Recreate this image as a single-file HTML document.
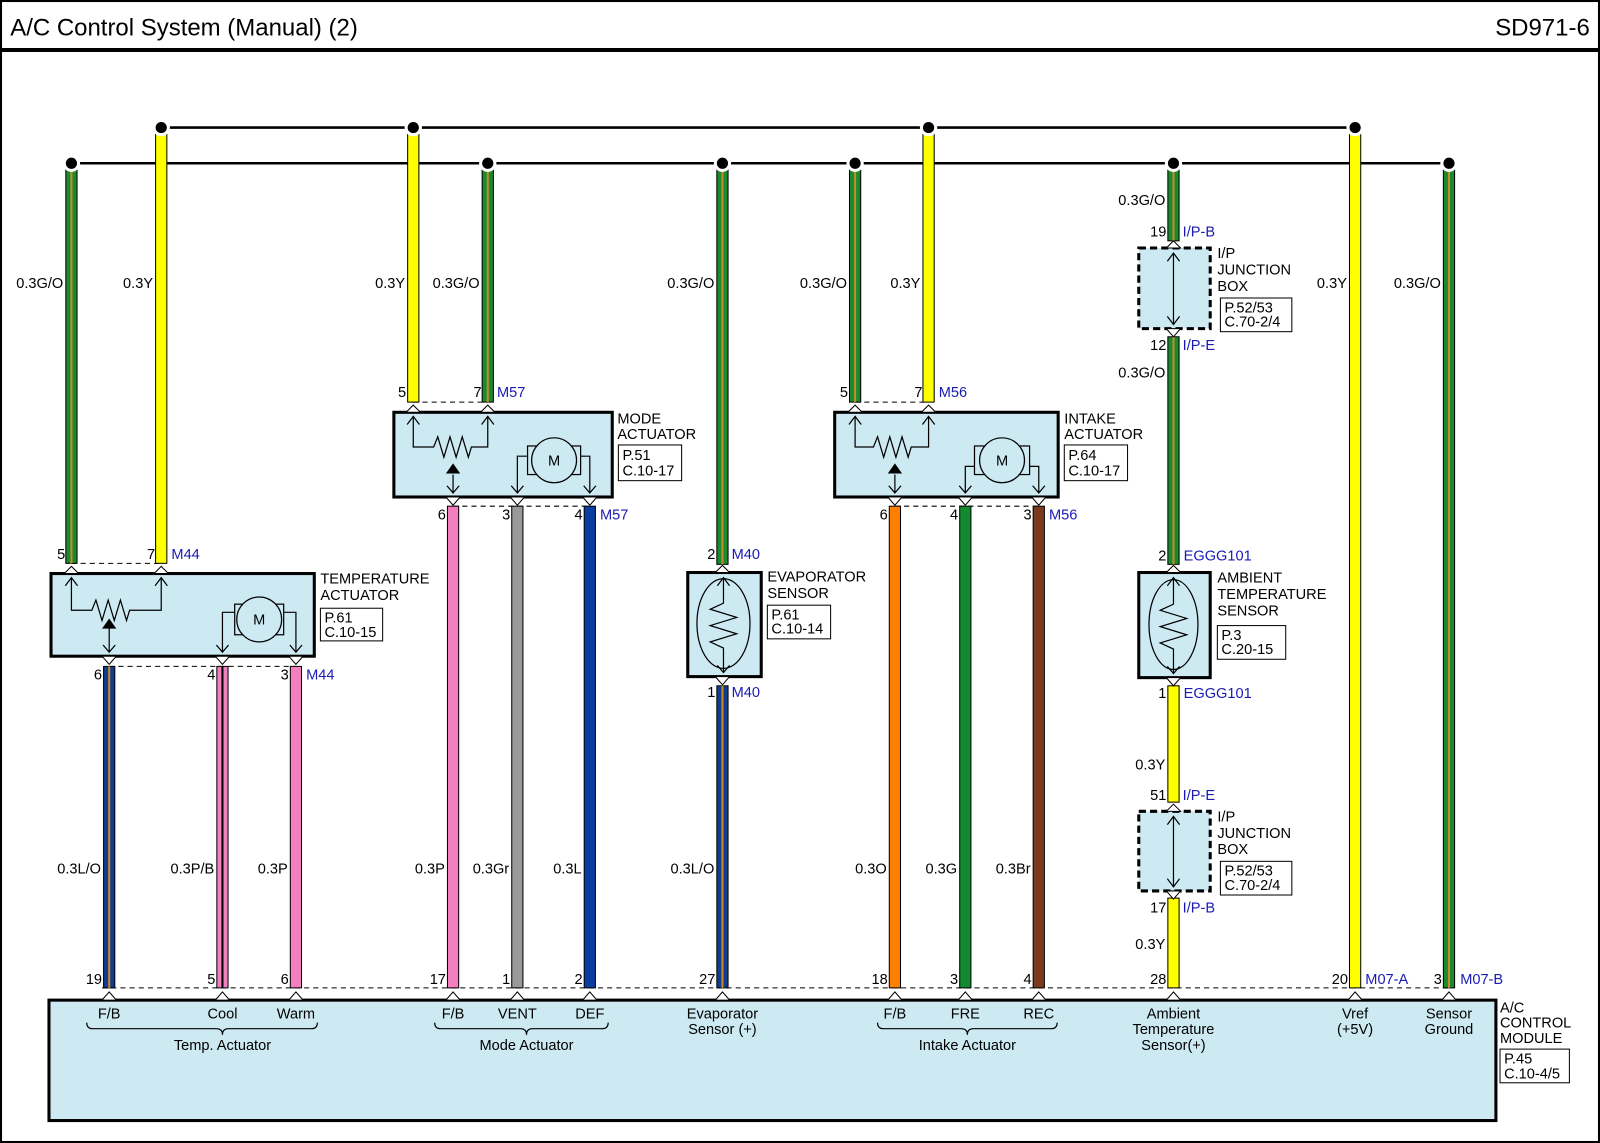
<!DOCTYPE html>
<html><head><meta charset="utf-8"><style>
html,body{margin:0;padding:0;background:#fff}
svg{display:block}
text{font-family:"Liberation Sans",Arial,sans-serif;font-size:14.3px;fill:#000}
.b{fill:#1a1ab4}
.t{font-size:23.5px}
</style></head><body>
<svg width="1600" height="1143" viewBox="0 0 1568 1120" preserveAspectRatio="none" xmlns="http://www.w3.org/2000/svg">
<rect x="1" y="1" width="1566" height="1118" fill="#fff" stroke="#000" stroke-width="2"/>
<text x="10" y="35" class="t">A/C Control System (Manual) (2)</text>
<text x="1558" y="35" class="t" text-anchor="end">SD971-6</text>
<line x1="0" y1="49" x2="1568" y2="49" stroke="#000" stroke-width="4"/>

<line x1="158" y1="125" x2="1328" y2="125" stroke="#000" stroke-width="2.5"/>
<line x1="70" y1="160" x2="1420" y2="160" stroke="#000" stroke-width="2.5"/>

<rect x="48" y="980" width="1418" height="118" fill="#cdeaf2" stroke="#000" stroke-width="3"/>
<rect x="50" y="562" width="258" height="81" fill="#cdeaf2" stroke="#000" stroke-width="3"/>
<rect x="386" y="404" width="214" height="83" fill="#cdeaf2" stroke="#000" stroke-width="3"/>
<rect x="818" y="404" width="219" height="83" fill="#cdeaf2" stroke="#000" stroke-width="3"/>
<rect x="674" y="561" width="72" height="102" fill="#cdeaf2" stroke="#000" stroke-width="3"/>
<rect x="1116" y="561" width="70" height="103" fill="#cdeaf2" stroke="#000" stroke-width="3"/>
<rect x="1116" y="243" width="70" height="79" fill="#cdeaf2" stroke="#000" stroke-width="3" stroke-dasharray="7,4"/>
<rect x="1116" y="795" width="70" height="78" fill="#cdeaf2" stroke="#000" stroke-width="3" stroke-dasharray="7,4"/>

<g stroke="#000" stroke-width="1" stroke-dasharray="5,4" fill="none">
<line x1="70" y1="552" x2="158" y2="552"/>
<line x1="107" y1="653" x2="290" y2="653"/>
<line x1="405" y1="394" x2="478" y2="394"/>
<line x1="444" y1="496" x2="578" y2="496"/>
<line x1="838" y1="394" x2="910" y2="394"/>
<line x1="877" y1="496" x2="1018" y2="496"/>
<line x1="100" y1="968" x2="1420" y2="968"/>
</g>

<g stroke="#000" stroke-width="1">
<rect x="64.5" y="160" width="11" height="392" fill="#1a8a2e"/><rect x="69" y="160" width="2" height="392" fill="#c98a2a" stroke="none"/>
<rect x="472.5" y="160" width="11" height="234" fill="#1a8a2e"/><rect x="477" y="160" width="2" height="234" fill="#c98a2a" stroke="none"/>
<rect x="702.5" y="160" width="11" height="393" fill="#1a8a2e"/><rect x="707" y="160" width="2" height="393" fill="#c98a2a" stroke="none"/>
<rect x="832.5" y="160" width="11" height="234" fill="#1a8a2e"/><rect x="837" y="160" width="2" height="234" fill="#c98a2a" stroke="none"/>
<rect x="1144.5" y="160" width="11" height="76" fill="#1a8a2e"/><rect x="1149" y="160" width="2" height="76" fill="#c98a2a" stroke="none"/>
<rect x="1144.5" y="330" width="11" height="223" fill="#1a8a2e"/><rect x="1149" y="330" width="2" height="223" fill="#c98a2a" stroke="none"/>
<rect x="1414.5" y="160" width="11" height="808" fill="#1a8a2e"/><rect x="1419" y="160" width="2" height="808" fill="#c98a2a" stroke="none"/>
<rect x="152.5" y="125" width="11" height="427" fill="#ffff00"/>
<rect x="399.5" y="125" width="11" height="269" fill="#ffff00"/>
<rect x="904.5" y="125" width="11" height="269" fill="#ffff00"/>
<rect x="1322.5" y="125" width="11" height="843" fill="#ffff00"/>
<rect x="1144.5" y="672" width="11" height="114" fill="#ffff00"/>
<rect x="1144.5" y="880" width="11" height="88" fill="#ffff00"/>
<rect x="101.5" y="653" width="11" height="315" fill="#123d8c"/><rect x="106" y="653" width="2" height="315" fill="#c98a2a" stroke="none"/>
<rect x="702.5" y="672" width="11" height="296" fill="#123d8c"/><rect x="707" y="672" width="2" height="296" fill="#c98a2a" stroke="none"/>
<rect x="212.5" y="653" width="11" height="315" fill="#f47fbf"/><rect x="217" y="653" width="2" height="315" fill="#000" stroke="none"/>
<rect x="284.5" y="653" width="11" height="315" fill="#f47fbf"/>
<rect x="438.5" y="496" width="11" height="472" fill="#f47fbf"/>
<rect x="501.5" y="496" width="11" height="472" fill="#9a9a9a"/>
<rect x="572.5" y="496" width="11" height="472" fill="#0a3d9e"/>
<rect x="871.5" y="496" width="11" height="472" fill="#ff7f00"/>
<rect x="940.5" y="496" width="11" height="472" fill="#118a30"/>
<rect x="1012.5" y="496" width="11" height="472" fill="#7b3a1e"/>
</g>

<g fill="#000" stroke="#fff" stroke-width="3">
<circle cx="158" cy="125" r="7"/><circle cx="405" cy="125" r="7"/><circle cx="910" cy="125" r="7"/><circle cx="1328" cy="125" r="7"/>
<circle cx="70" cy="160" r="7"/><circle cx="478" cy="160" r="7"/><circle cx="708" cy="160" r="7"/><circle cx="838" cy="160" r="7"/><circle cx="1150" cy="160" r="7"/><circle cx="1420" cy="160" r="7"/>
</g>

<g fill="#fff" stroke="#000" stroke-width="1">
<path d="M63 562 L70 555 L77 562Z"/><path d="M151 562 L158 555 L165 562Z"/>
<path d="M398 404 L405 397 L412 404Z"/><path d="M471 404 L478 397 L485 404Z"/>
<path d="M831 404 L838 397 L845 404Z"/><path d="M903 404 L910 397 L917 404Z"/>
<path d="M701 561 L708 554 L715 561Z"/><path d="M1143 561 L1150 554 L1157 561Z"/>
<path d="M1143 243 L1150 236 L1157 243Z"/><path d="M1143 795 L1150 788 L1157 795Z"/>
<path d="M100 980 L107 972 L114 980Z"/><path d="M211 980 L218 972 L225 980Z"/><path d="M283 980 L290 972 L297 980Z"/>
<path d="M437 980 L444 972 L451 980Z"/><path d="M500 980 L507 972 L514 980Z"/><path d="M571 980 L578 972 L585 980Z"/>
<path d="M701 980 L708 972 L715 980Z"/><path d="M870 980 L877 972 L884 980Z"/><path d="M939 980 L946 972 L953 980Z"/><path d="M1011 980 L1018 972 L1025 980Z"/>
<path d="M1143 980 L1150 972 L1157 980Z"/><path d="M1321 980 L1328 972 L1335 980Z"/><path d="M1413 980 L1420 972 L1427 980Z"/>
<path d="M100 643 L107 651 L114 643Z"/><path d="M211 643 L218 651 L225 643Z"/><path d="M283 643 L290 651 L297 643Z"/>
<path d="M437 487 L444 495 L451 487Z"/><path d="M500 487 L507 495 L514 487Z"/><path d="M571 487 L578 495 L585 487Z"/>
<path d="M870 487 L877 495 L884 487Z"/><path d="M939 487 L946 495 L953 487Z"/><path d="M1011 487 L1018 495 L1025 487Z"/>
<path d="M701 663 L708 671 L715 663Z"/><path d="M1143 664 L1150 672 L1157 664Z"/>
<path d="M1143 322 L1150 330 L1157 322Z"/><path d="M1143 873 L1150 881 L1157 873Z"/>
</g>

<g fill="none" stroke="#000" stroke-width="1.2">
<polyline points="70,566 70,598 90,598 94,588 100,608 106,588 112,608 118,588 124,608 127,598 158,598 158,566"/>
<polyline points="64,574 70,566 76,574"/><polyline points="152,574 158,566 164,574"/>
<line x1="107" y1="614" x2="107" y2="639"/><polyline points="101,632 107,639 113,632"/>
<path d="M218 639 V600 H230"/><path d="M290 639 V600 H278"/>
<polyline points="212,632 218,639 224,632"/><polyline points="284,632 290,639 296,632"/>
<rect x="230" y="592" width="48" height="30" fill="#cdeaf2"/>
<circle cx="254" cy="607" r="22" fill="#cdeaf2"/>
<polyline points="405,408 405,438 425,438 429,428 435,448 441,428 447,448 453,428 459,448 462,438 478,438 478,408"/>
<polyline points="399,416 405,408 411,416"/><polyline points="472,416 478,408 484,416"/>
<line x1="444" y1="465" x2="444" y2="483"/><polyline points="438,476 444,483 450,476"/>
<path d="M507 483 V447 H518"/><path d="M578 483 V447 H568"/>
<polyline points="501,476 507,483 513,476"/><polyline points="572,476 578,483 584,476"/>
<rect x="517" y="437" width="52" height="28" fill="#cdeaf2"/>
<circle cx="543" cy="451" r="22" fill="#cdeaf2"/>
<polyline points="838,408 838,438 856,438 860,428 866,448 872,428 878,448 884,428 890,448 893,438 910,438 910,408"/>
<polyline points="832,416 838,408 844,416"/><polyline points="904,416 910,408 916,416"/>
<line x1="877" y1="465" x2="877" y2="483"/><polyline points="871,476 877,483 883,476"/>
<path d="M946 483 V457 H956"/><path d="M1018 483 V457 H1008"/>
<polyline points="940,476 946,483 952,476"/><polyline points="1012,476 1018,483 1024,476"/>
<rect x="955" y="437" width="54" height="28" fill="#cdeaf2"/>
<circle cx="982" cy="451" r="22" fill="#cdeaf2"/>
<ellipse cx="709" cy="611" rx="26" ry="44"/>
<polyline points="709,566 709,591 696,597 722,605 696,613 722,621 696,629 709,635 709,659"/>
<polyline points="703,574 709,566 715,574"/><polyline points="703,652 709,659 715,652"/>
<ellipse cx="1150" cy="612" rx="24" ry="44"/>
<polyline points="1150,566 1150,592 1137,598 1163,606 1137,614 1163,622 1137,630 1150,636 1150,660"/>
<polyline points="1144,574 1150,566 1156,574"/><polyline points="1144,653 1150,660 1156,653"/>
<line x1="1150" y1="248" x2="1150" y2="318"/><polyline points="1144,256 1150,248 1156,256"/><polyline points="1144,310 1150,318 1156,310"/>
<line x1="1150" y1="800" x2="1150" y2="869"/><polyline points="1144,808 1150,800 1156,808"/><polyline points="1144,861 1150,869 1156,861"/>
<path d="M85 1002 q0 6 6 6 H212 q6 0 6 6 q0 -6 6 -6 H305 q6 0 6 -6"/>
<path d="M426 1002 q0 6 6 6 H510 q6 0 6 6 q0 -6 6 -6 H590 q6 0 6 -6"/>
<path d="M860 1002 q0 6 6 6 H942 q6 0 6 6 q0 -6 6 -6 H1030 q6 0 6 -6"/>
</g>
<path d="M100 616 L107 606 L114 616Z" fill="#000"/>
<path d="M437 464 L444 454 L451 464Z" fill="#000"/>
<path d="M870 464 L877 454 L884 464Z" fill="#000"/>
<text x="254" y="612" text-anchor="middle">M</text>
<text x="543" y="456" text-anchor="middle">M</text>
<text x="982" y="456" text-anchor="middle">M</text>

<g fill="#fff" stroke="#000" stroke-width="1">
<rect x="314" y="596" width="61" height="32"/>
<rect x="606" y="436" width="62" height="35"/>
<rect x="1043" y="436" width="62" height="35"/>
<rect x="752" y="593" width="62" height="33"/>
<rect x="1193" y="613" width="67" height="33"/>
<rect x="1196" y="292" width="70" height="33"/>
<rect x="1196" y="844" width="70" height="33"/>
<rect x="1470" y="1028" width="68" height="33"/>
</g>
<text x="318" y="610">P.61</text><text x="318" y="624">C.10-15</text>
<text x="610" y="451">P.51</text><text x="610" y="466">C.10-17</text>
<text x="1047" y="451">P.64</text><text x="1047" y="466">C.10-17</text>
<text x="756" y="607">P.61</text><text x="756" y="621">C.10-14</text>
<text x="1197" y="627">P.3</text><text x="1197" y="641">C.20-15</text>
<text x="1200" y="306">P.52/53</text><text x="1200" y="320">C.70-2/4</text>
<text x="1200" y="858">P.52/53</text><text x="1200" y="872">C.70-2/4</text>
<text x="1474" y="1042">P.45</text><text x="1474" y="1057">C.10-4/5</text>

<text x="314" y="572">TEMPERATURE</text><text x="314" y="588">ACTUATOR</text>
<text x="605" y="415">MODE</text><text x="605" y="430">ACTUATOR</text>
<text x="1043" y="415">INTAKE</text><text x="1043" y="430">ACTUATOR</text>
<text x="752" y="570">EVAPORATOR</text><text x="752" y="586">SENSOR</text>
<text x="1193" y="571">AMBIENT</text><text x="1193" y="587">TEMPERATURE</text><text x="1193" y="603">SENSOR</text>
<text x="1193" y="253">I/P</text><text x="1193" y="269">JUNCTION</text><text x="1193" y="285">BOX</text>
<text x="1193" y="805">I/P</text><text x="1193" y="821">JUNCTION</text><text x="1193" y="837">BOX</text>
<text x="1470" y="992">A/C</text><text x="1470" y="1007">CONTROL</text><text x="1470" y="1022">MODULE</text>

<g text-anchor="end">
<text x="62" y="282">0.3G/O</text><text x="150" y="282">0.3Y</text>
<text x="397" y="282">0.3Y</text><text x="470" y="282">0.3G/O</text>
<text x="700" y="282">0.3G/O</text><text x="830" y="282">0.3G/O</text><text x="902" y="282">0.3Y</text>
<text x="1142" y="201">0.3G/O</text><text x="1142" y="370">0.3G/O</text>
<text x="1320" y="282">0.3Y</text><text x="1412" y="282">0.3G/O</text>
<text x="1142" y="754">0.3Y</text><text x="1142" y="930">0.3Y</text>
<text x="99" y="856">0.3L/O</text><text x="210" y="856">0.3P/B</text><text x="282" y="856">0.3P</text>
<text x="436" y="856">0.3P</text><text x="499" y="856">0.3Gr</text><text x="570" y="856">0.3L</text>
<text x="700" y="856">0.3L/O</text><text x="869" y="856">0.3O</text><text x="938" y="856">0.3G</text><text x="1010" y="856">0.3Br</text>
<text x="64" y="548">5</text><text x="152" y="548">7</text>
<text x="100" y="666">6</text><text x="211" y="666">4</text><text x="283" y="666">3</text>
<text x="398" y="389">5</text><text x="472" y="389">7</text>
<text x="437" y="509">6</text><text x="500" y="509">3</text><text x="571" y="509">4</text>
<text x="831" y="389">5</text><text x="904" y="389">7</text>
<text x="870" y="509">6</text><text x="939" y="509">4</text><text x="1011" y="509">3</text>
<text x="701" y="548">2</text><text x="701" y="683">1</text>
<text x="1143" y="232">19</text><text x="1143" y="343">12</text>
<text x="1143" y="549">2</text><text x="1143" y="684">1</text>
<text x="1143" y="784">51</text><text x="1143" y="894">17</text>
<text x="100" y="964">19</text><text x="211" y="964">5</text><text x="283" y="964">6</text>
<text x="437" y="964">17</text><text x="500" y="964">1</text><text x="571" y="964">2</text>
<text x="701" y="964">27</text><text x="870" y="964">18</text><text x="939" y="964">3</text><text x="1011" y="964">4</text>
<text x="1143" y="964">28</text><text x="1321" y="964">20</text><text x="1413" y="964">3</text>
</g>
<text x="168" y="548" class="b">M44</text><text x="300" y="666" class="b">M44</text>
<text x="487" y="389" class="b">M57</text><text x="588" y="509" class="b">M57</text>
<text x="920" y="389" class="b">M56</text><text x="1028" y="509" class="b">M56</text>
<text x="717" y="548" class="b">M40</text><text x="717" y="683" class="b">M40</text>
<text x="1159" y="232" class="b">I/P-B</text><text x="1159" y="343" class="b">I/P-E</text>
<text x="1160" y="549" class="b">EGGG101</text><text x="1160" y="684" class="b">EGGG101</text>
<text x="1159" y="784" class="b">I/P-E</text><text x="1159" y="894" class="b">I/P-B</text>
<text x="1338" y="964" class="b">M07-A</text><text x="1431" y="964" class="b">M07-B</text>

<g text-anchor="middle">
<text x="107" y="998">F/B</text><text x="218" y="998">Cool</text><text x="290" y="998">Warm</text>
<text x="218" y="1029">Temp. Actuator</text>
<text x="444" y="998">F/B</text><text x="507" y="998">VENT</text><text x="578" y="998">DEF</text>
<text x="516" y="1029">Mode Actuator</text>
<text x="708" y="998">Evaporator</text><text x="708" y="1013">Sensor (+)</text>
<text x="877" y="998">F/B</text><text x="946" y="998">FRE</text><text x="1018" y="998">REC</text>
<text x="948" y="1029">Intake Actuator</text>
<text x="1150" y="998">Ambient</text><text x="1150" y="1013">Temperature</text><text x="1150" y="1029">Sensor(+)</text>
<text x="1328" y="998">Vref</text><text x="1328" y="1013">(+5V)</text>
<text x="1420" y="998">Sensor</text><text x="1420" y="1013">Ground</text>
</g>
</svg>
</body></html>
